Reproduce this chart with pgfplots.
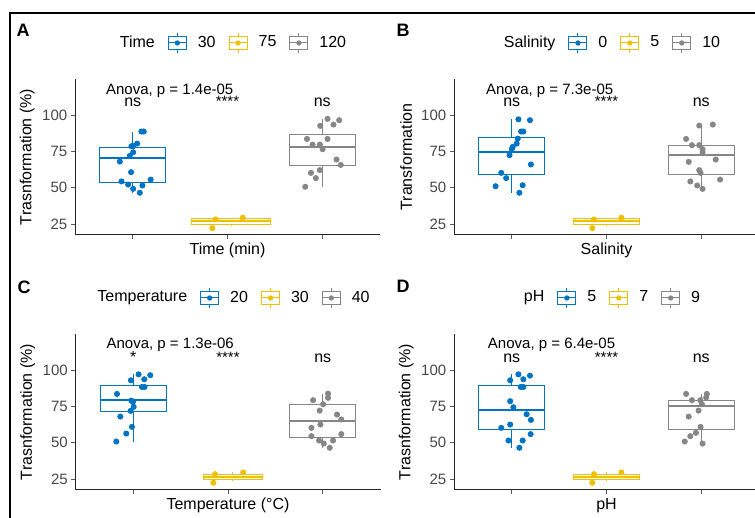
\documentclass[border=0pt]{standalone}
\usepackage{fontspec}
\setmainfont{Liberation Sans}
\usepackage{pgfplots}
\pgfplotsset{compat=1.18}
\usepgfplotslibrary{statistics}

\definecolor{cblue}{HTML}{0073C2}
\definecolor{cyel}{HTML}{EFC000}
\definecolor{cgray}{HTML}{868686}

\newcommand{\axfont}{\fontsize{8}{9.6}\selectfont}
\newcommand{\tkfont}{\fontsize{7.5}{9}\selectfont}

\pgfplotsset{
  boxkey/.style={legend image code/.code={
    \draw[#1, line width=0.5pt, fill=white] (0pt,-3.2pt) rectangle (9pt,3.2pt);
    \draw[#1, line width=0.5pt] (0pt,0pt) -- (9pt,0pt);
    \draw[#1, line width=0.5pt] (4.5pt,3.2pt) -- (4.5pt,4.8pt);
    \draw[#1, line width=0.5pt] (4.5pt,-3.2pt) -- (4.5pt,-4.8pt);
    \fill[#1] (4.5pt,0pt) circle (1.1pt);}},
  boxplot/draw direction=y,
  boxplot/every median/.style={line width=1pt},
  bx/.style={color=#1, draw=#1, fill=white, line width=0.5pt, forget plot, mark=none,
    boxplot/every box/.style={draw=#1, fill=white}},
  pts/.style={color=#1, only marks, mark=*, mark size=1.3pt, forget plot},
  panel/.style={
    scale only axis, width=152.5pt, height=78pt, anchor=south west,
    xmin=0.39, xmax=3.61, ymin=17.5, ymax=125,
    axis x line=bottom, axis y line=left,
    axis line style={-, line width=0.5pt, black!85},
    xtick={1,2,3}, xticklabels={,,}, ytick={25,50,75,100},
    tick align=outside, major tick length=2.2pt,
    tick style={black!65, line width=0.5pt},
    /pgf/number format/assume math mode=true,
    yticklabel style={font=\tkfont, text=black!72, inner sep=1.5pt},
    xlabel style={at={(axis description cs:0.5,-0.1)}, anchor=center, font=\axfont},
    ylabel style={at={(axis description cs:-0.157,0.5)}, anchor=center, font=\axfont},
    clip=false,
    legend columns=4,
    legend style={draw=none, fill=none, at={(0.5,1)}, anchor=center, yshift=18pt,
      font=\axfont, inner sep=0pt, nodes={inner sep=0pt},
      /tikz/every odd column/.style={column sep=5.5pt},
      /tikz/every even column/.style={column sep=6.5pt}},
  },
}

\begin{document}
\begin{tikzpicture}
\useasboundingbox (0,0) rectangle (377.5pt,259pt);
\draw[line width=1pt] (5pt,-2pt) -- (5pt,252.5pt) -- (380pt,252.5pt);

\node[font=\fontsize{9}{10}\selectfont\bfseries] at (11.5pt,244pt) {A};
\node[font=\fontsize{9}{10}\selectfont\bfseries] at (201.5pt,244pt) {B};
\node[font=\fontsize{9}{10}\selectfont\bfseries] at (12pt,115.5pt) {C};
\node[font=\fontsize{9}{10}\selectfont\bfseries] at (201.5pt,116pt) {D};

% ---------------- A
\begin{axis}[panel, at={(37.5pt,141.5pt)}, xlabel={Time (min)}, ylabel={Trasnformation (\%)}]
\addplot[bx=cblue, boxplot prepared={draw position=1, median=70.6, lower quartile=53.7, upper quartile=78.0, lower whisker=46.6, upper whisker=88.8, box extend=0.7, whisker extend=0}] coordinates {};
\addplot[bx=cyel, boxplot prepared={draw position=2.04, median=27.3, lower quartile=25.0, upper quartile=28.9, lower whisker=23.8, upper whisker=29.4, box extend=0.83, whisker extend=0}] coordinates {};
\addplot[bx=cgray, boxplot prepared={draw position=3, median=78.2, lower quartile=65.4, upper quartile=86.5, lower whisker=50.7, upper whisker=97.5, box extend=0.7, whisker extend=0}] coordinates {};
\addplot[pts=cblue] coordinates {(1.091,88.8) (1.116,88.8) (1.046,80.5) (0.986,78.7) (1.004,78.7) (1.004,74.5) (0.968,72.0) (0.863,68.1) (0.982,60.8) (0.881,54.4) (1.189,55.7) (0.951,52.3) (1.102,51.6) (1.004,49.3) (1.074,46.6)};
\addplot[pts=cyel] coordinates {(1.874,28.2) (1.84,22.2) (2.161,29.4)};
\addplot[pts=cgray] coordinates {(3.056,97.5) (3.179,96.6) (2.979,92.7) (3.119,93.6) (2.839,83.7) (3.056,83.7) (2.898,79.8) (2.975,79.8) (3.004,76.6) (3.151,69.5) (3.196,65.8) (2.881,60.3) (2.975,62.2) (2.933,56.7) (2.821,50.7)};
\node[font=\tkfont, anchor=base] at (axis cs:1.39,114.6) {Anova, p = 1.4e-05};
\node[font=\axfont, anchor=base] at (axis cs:1,105.7) {ns};
\node[font=\tkfont, anchor=base] at (axis cs:2,105.7) {****};
\node[font=\axfont, anchor=base] at (axis cs:3,105.7) {ns};
\addlegendimage{empty legend}\addlegendentry{Time}
\addlegendimage{boxkey=cblue}\addlegendentry{30}
\addlegendimage{boxkey=cyel}\addlegendentry{75}
\addlegendimage{boxkey=cgray}\addlegendentry{120}
\end{axis}

% ---------------- B
\begin{axis}[panel, at={(227pt,141.5pt)}, xlabel={Salinity}, ylabel={Transformation}]
\addplot[bx=cblue, boxplot prepared={draw position=1, median=74.8, lower quartile=59.4, upper quartile=84.6, lower whisker=46.6, upper whisker=97.2, box extend=0.7, whisker extend=0}] coordinates {};
\addplot[bx=cyel, boxplot prepared={draw position=2, median=27.3, lower quartile=25.0, upper quartile=28.9, lower whisker=23.8, upper whisker=29.4, box extend=0.7, whisker extend=0}] coordinates {};
\addplot[bx=cgray, boxplot prepared={draw position=3, median=72.5, lower quartile=59.4, upper quartile=79.4, lower whisker=49.3, upper whisker=93.6, box extend=0.7, whisker extend=0}] coordinates {};
\addplot[pts=cblue] coordinates {(1.070,97.2) (1.192,96.6) (1.098,88.8) (1.122,88.8) (1.063,83.9) (1.052,80.5) (1.010,78.2) (1.000,76.6) (0.976,72.5) (1.202,66.1) (0.889,60.3) (0.941,56.7) (0.829,51.1) (1.115,51.8) (1.080,46.6)};
\addplot[pts=cyel] coordinates {(1.868,28.2) (1.850,22.2) (2.157,29.4)};
\addplot[pts=cgray] coordinates {(2.979,92.9) (3.122,93.6) (2.840,83.7) (2.902,79.4) (2.979,79.4) (3.014,76.6) (3.014,74.5) (3.153,69.5) (2.868,67.9) (2.979,62.2) (2.993,60.3) (3.199,55.7) (2.885,54.4) (2.958,51.6) (3.014,49.3)};
\node[font=\tkfont, anchor=base] at (axis cs:1.40,114.6) {Anova, p = 7.3e-05};
\node[font=\axfont, anchor=base] at (axis cs:1,105.7) {ns};
\node[font=\tkfont, anchor=base] at (axis cs:2,105.7) {****};
\node[font=\axfont, anchor=base] at (axis cs:3,105.7) {ns};
\addlegendimage{empty legend}\addlegendentry{Salinity}
\addlegendimage{boxkey=cblue}\addlegendentry{0}
\addlegendimage{boxkey=cyel}\addlegendentry{5}
\addlegendimage{boxkey=cgray}\addlegendentry{10}
\end{axis}

% ---------------- C
\begin{axis}[panel, at={(37.75pt,14pt)}, xlabel={Temperature (°C)}, ylabel={Trasnformation (\%)}]
\addplot[bx=cblue, boxplot prepared={draw position=1, median=79.8, lower quartile=71.8, upper quartile=89.4, lower whisker=50.9, upper whisker=97.2, box extend=0.7, whisker extend=0}] coordinates {};
\addplot[bx=cyel, boxplot prepared={draw position=2.05, median=26.8, lower quartile=25.0, upper quartile=28.4, lower whisker=23.8, upper whisker=29.6, box extend=0.62, whisker extend=0}] coordinates {};
\addplot[bx=cgray, boxplot prepared={draw position=3, median=64.9, lower quartile=53.9, upper quartile=76.4, lower whisker=46.6, upper whisker=83.9, box extend=0.7, whisker extend=0}] coordinates {};
\addplot[pts=cblue] coordinates {(1.056,97.2) (1.179,96.6) (0.975,93.1) (1.116,93.8) (1.091,88.5) (1.119,88.5) (0.828,83.7) (0.979,79.1) (0.996,78.2) (1.004,74.8) (0.972,72.0) (0.863,68.1) (0.986,61.0) (0.926,56.4) (0.821,50.9)};
\addplot[pts=cyel] coordinates {(1.863,28.4) (1.846,22.5) (2.161,29.6)};
\addplot[pts=cgray] coordinates {(3.056,83.9) (3.056,81.0) (2.898,79.4) (3.004,76.6) (2.968,72.2) (3.151,69.5) (3.196,66.1) (2.975,62.6) (2.881,60.3) (3.196,56.0) (2.881,54.6) (2.961,51.6) (3.109,51.6) (3.011,49.5) (3.074,46.6)};
\node[font=\tkfont, anchor=base] at (axis cs:1.39,115.0) {Anova, p = 1.3e-06};
\node[font=\axfont, anchor=base] at (axis cs:1,105.7) {*};
\node[font=\tkfont, anchor=base] at (axis cs:2,105.7) {****};
\node[font=\axfont, anchor=base] at (axis cs:3,105.7) {ns};
\addlegendimage{empty legend}\addlegendentry{Temperature}
\addlegendimage{boxkey=cblue}\addlegendentry{20}
\addlegendimage{boxkey=cyel}\addlegendentry{30}
\addlegendimage{boxkey=cgray}\addlegendentry{40}
\end{axis}

% ---------------- D
\begin{axis}[panel, at={(227pt,14pt)}, xlabel={pH}, ylabel={Trasnformation (\%)}]
\addplot[bx=cblue, boxplot prepared={draw position=1, median=72.5, lower quartile=59.4, upper quartile=89.2, lower whisker=46.6, upper whisker=97.2, box extend=0.7, whisker extend=0}] coordinates {};
\addplot[bx=cyel, boxplot prepared={draw position=2, median=26.8, lower quartile=25.0, upper quartile=28.4, lower whisker=23.8, upper whisker=29.6, box extend=0.7, whisker extend=0}] coordinates {};
\addplot[bx=cgray, boxplot prepared={draw position=3, median=75.2, lower quartile=59.4, upper quartile=79.4, lower whisker=49.5, upper whisker=83.7, box extend=0.7, whisker extend=0}] coordinates {};
\addplot[pts=cblue] coordinates {(1.070,97.2) (1.192,96.3) (0.983,93.1) (1.122,93.8) (1.094,88.5) (1.122,88.5) (0.983,78.7) (1.017,74.5) (1.157,69.7) (1.202,65.8) (0.983,62.6) (0.889,60.3) (1.199,56.0) (0.965,51.6) (1.115,51.6) (1.080,46.6)};
\addplot[pts=cyel] coordinates {(1.868,28.4) (1.850,22.5) (2.157,29.6)};
\addplot[pts=cgray] coordinates {(2.840,83.7) (3.059,83.7) (3.052,81.2) (2.902,79.4) (2.990,79.4) (3.007,76.6) (2.972,72.2) (2.868,68.1) (2.993,61.0) (2.944,56.9) (2.885,54.6) (2.826,50.9) (3.014,49.5)};
\node[font=\tkfont, anchor=base] at (axis cs:1.42,115.0) {Anova, p = 6.4e-05};
\node[font=\axfont, anchor=base] at (axis cs:1,105.7) {ns};
\node[font=\tkfont, anchor=base] at (axis cs:2,105.7) {****};
\node[font=\axfont, anchor=base] at (axis cs:3,105.7) {ns};
\addlegendimage{empty legend}\addlegendentry{pH}
\addlegendimage{boxkey=cblue}\addlegendentry{5}
\addlegendimage{boxkey=cyel}\addlegendentry{7}
\addlegendimage{boxkey=cgray}\addlegendentry{9}
\end{axis}
\end{tikzpicture}
\end{document}
